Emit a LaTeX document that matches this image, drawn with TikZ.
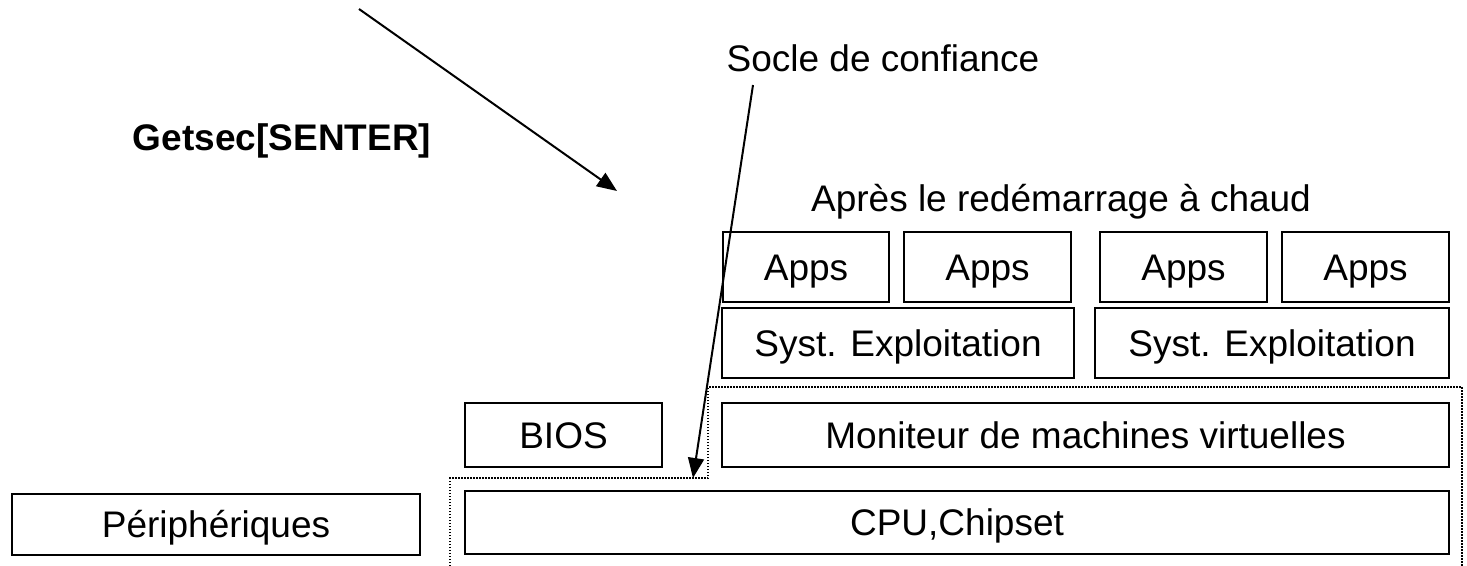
\documentclass[tikz,border=0pt]{standalone}
\usepackage{fontspec}
\setmainfont{Liberation Sans}
\usetikzlibrary{arrows.meta}
\begin{document}
\begin{tikzpicture}[x=1pt,y=-1pt,
  box/.style={draw=black,line width=2pt,rectangle,inner sep=0pt,text height=27pt,text depth=1pt,font=\fontsize{37}{44}\selectfont},
  lbl/.style={inner sep=0pt,text height=27pt,text depth=1pt,font=\fontsize{37}{44}\selectfont},
  arr/.style={line width=2pt,-{Triangle[length=20pt,width=16pt]}},
  dots/.style={line width=1.5pt,dash pattern=on 1.5pt off 1.5pt}]
\useasboundingbox (0,0) rectangle (1467,565);
% boxes
\node[box,minimum width=408pt,minimum height=61pt] (per) at (216,524.5) {Périphériques};
\node[box,minimum width=984pt,minimum height=63pt] (cpu) at (957,522.5) {CPU,Chipset};
\node[box,minimum width=197pt,minimum height=64pt] (bios) at (563.5,435) {BIOS};
\node[box,minimum width=727pt,minimum height=64pt] (vmm) at (1085.5,435) {Moniteur de machines virtuelles};
\node[box,minimum width=352pt,minimum height=70pt] (os1) at (898,343) {Syst. Exploitation};
\node[box,minimum width=354pt,minimum height=70pt] (os2) at (1272,343) {Syst. Exploitation};
\node[box,minimum width=166pt,minimum height=70pt] (apps1) at (806,267) {Apps};
\node[box,minimum width=167pt,minimum height=70pt] (apps2) at (987.5,267) {Apps};
\node[box,minimum width=167pt,minimum height=70pt] (apps3) at (1183.5,267) {Apps};
\node[box,minimum width=167pt,minimum height=70pt] (apps4) at (1365.5,267) {Apps};
% dotted trust base outline
\draw[dots] (450,566) -- (450,478) -- (708,478) -- (708,387) -- (1462,387) -- (1462,566);
% labels
\node[lbl,font=\fontsize{37}{44}\selectfont\bfseries] (getsec) at (282,137) {Getsec[SENTER]};
\node[lbl] (socle) at (883,58) {Socle de confiance};
\node[lbl] (apres) at (1061,198) {Après le redémarrage à chaud};
% arrows
\coordinate (a1s) at (359,9);
\coordinate (a1e) at (617,191);
\coordinate (a2s) at (753,85);
\coordinate (a2e) at (693,478);
\draw[arr] (a1s) -- (a1e);
\draw[arr] (a2s) -- (a2e);
\end{tikzpicture}
\end{document}
